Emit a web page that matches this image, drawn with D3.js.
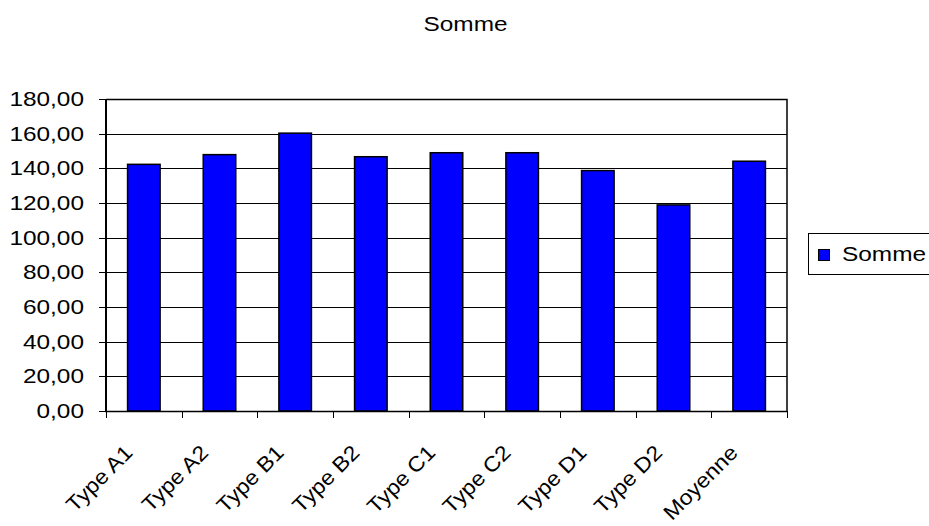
<!DOCTYPE html>
<html>
<head>
<meta charset="utf-8">
<script src="https://cdn.jsdelivr.net/npm/d3@7"></script>
<style>
  html, body { margin: 0; padding: 0; background: #fff; }
  svg { display: block; font-family: "Liberation Sans", Arial, sans-serif; }
</style>
</head>
<body>
<svg id="chart" width="929" height="526"></svg>
<script>
// Chart data
const categories = ["Type A1", "Type A2", "Type B1", "Type B2", "Type C1", "Type C2", "Type D1", "Type D2", "Moyenne"];
const values = [142.3, 147.9, 160.3, 146.7, 149.0, 149.0, 138.7, 118.9, 144.1];
const yTicks = [0, 20, 40, 60, 80, 100, 120, 140, 160, 180];
const seriesName = "Somme";
const chartTitle = "Somme";

const svg = d3.select("#chart");
const plot = { left: 106, right: 787, top: 99, bottom: 411 };
const fontSize = 20;
const stretch = 1.22;     // horizontal widening of the text
const labelSize = 21;     // category labels
const labelStretch = 1.1;
const fmt = v => v.toFixed(2).replace(".", ",");

const x = d3.scaleBand().domain(categories).range([plot.left, plot.right]).paddingInner(0.57).paddingOuter(0.285);
const xCat = d3.scaleBand().domain(categories).range([plot.left, plot.right]);
const y = d3.scaleLinear().domain([0, 180]).range([plot.bottom, plot.top]);

// Title
svg.append("text")
  .attr("transform", `translate(465.5,31) scale(${stretch},1)`)
  .attr("text-anchor", "middle")
  .attr("font-size", fontSize)
  .attr("fill", "#000")
  .text(chartTitle);

// Gridlines
svg.append("g")
  .selectAll("line")
  .data(yTicks.filter(t => t > 0))
  .join("line")
  .attr("x1", plot.left).attr("x2", plot.right)
  .attr("y1", d => Math.round(y(d)) + 0.5).attr("y2", d => Math.round(y(d)) + 0.5)
  .attr("stroke", "#000").attr("stroke-width", 1);

// Plot frame (top and right)
svg.append("path")
  .attr("d", `M${plot.left},${plot.top + 0.5}H${plot.right}V${plot.bottom}`)
  .attr("fill", "none").attr("stroke", "#000").attr("stroke-width", 1.5);

// Bars
svg.append("g")
  .selectAll("rect")
  .data(categories.map((c, i) => ({ c, v: values[i] })))
  .join("rect")
  .attr("x", d => x(d.c))
  .attr("width", x.bandwidth())
  .attr("y", d => y(d.v))
  .attr("height", d => plot.bottom - y(d.v))
  .attr("fill", "#0000FF")
  .attr("stroke", "#000")
  .attr("stroke-width", 1.5);

// Y axis
const yAxis = svg.append("g");
yAxis.append("line")
  .attr("x1", plot.left).attr("x2", plot.left)
  .attr("y1", plot.top).attr("y2", plot.bottom + 1)
  .attr("stroke", "#000").attr("stroke-width", 2);
yAxis.selectAll("line.tick")
  .data(yTicks)
  .join("line")
  .attr("class", "tick")
  .attr("x1", plot.left - 7).attr("x2", plot.left)
  .attr("y1", d => Math.round(y(d)) + 0.5).attr("y2", d => Math.round(y(d)) + 0.5)
  .attr("stroke", "#000");
yAxis.selectAll("text")
  .data(yTicks)
  .join("text")
  .attr("transform", d => `translate(84,${y(d) + 7}) scale(${stretch},1)`)
  .attr("text-anchor", "end")
  .attr("font-size", fontSize)
  .attr("fill", "#000")
  .text(fmt);

// X axis
const xAxis = svg.append("g");
xAxis.append("line")
  .attr("x1", plot.left - 1).attr("x2", plot.right)
  .attr("y1", plot.bottom + 0.5).attr("y2", plot.bottom + 0.5)
  .attr("stroke", "#000").attr("stroke-width", 1.5);
const boundaries = categories.map(c => xCat(c)).concat([plot.right]);
xAxis.selectAll("line.tick")
  .data(boundaries)
  .join("line")
  .attr("class", "tick")
  .attr("x1", d => Math.round(d) + 0.5).attr("x2", d => Math.round(d) + 0.5)
  .attr("y1", plot.bottom).attr("y2", plot.bottom + 7)
  .attr("stroke", "#000");
xAxis.selectAll("text")
  .data(categories)
  .join("text")
  .attr("transform", d => `translate(${xCat(d) + xCat.bandwidth() / 2 - 10},${plot.bottom + 43}) rotate(-45) scale(${labelStretch},1)`)
  .attr("text-anchor", "end")
  .attr("font-size", labelSize)
  .attr("fill", "#000")
  .text(d => d);

// Legend
const legend = svg.append("g");
legend.append("rect")
  .attr("x", 808.5).attr("y", 233.5).attr("width", 140).attr("height", 41)
  .attr("fill", "#fff").attr("stroke", "#000").attr("stroke-width", 1);
legend.append("rect")
  .attr("x", 818.5).attr("y", 249.5).attr("width", 11).attr("height", 11)
  .attr("fill", "#0000FF").attr("stroke", "#000").attr("stroke-width", 1);
legend.append("text")
  .attr("transform", `translate(842,261) scale(${stretch},1)`)
  .attr("font-size", fontSize)
  .attr("fill", "#000")
  .text(seriesName);
</script>
</body>
</html>
